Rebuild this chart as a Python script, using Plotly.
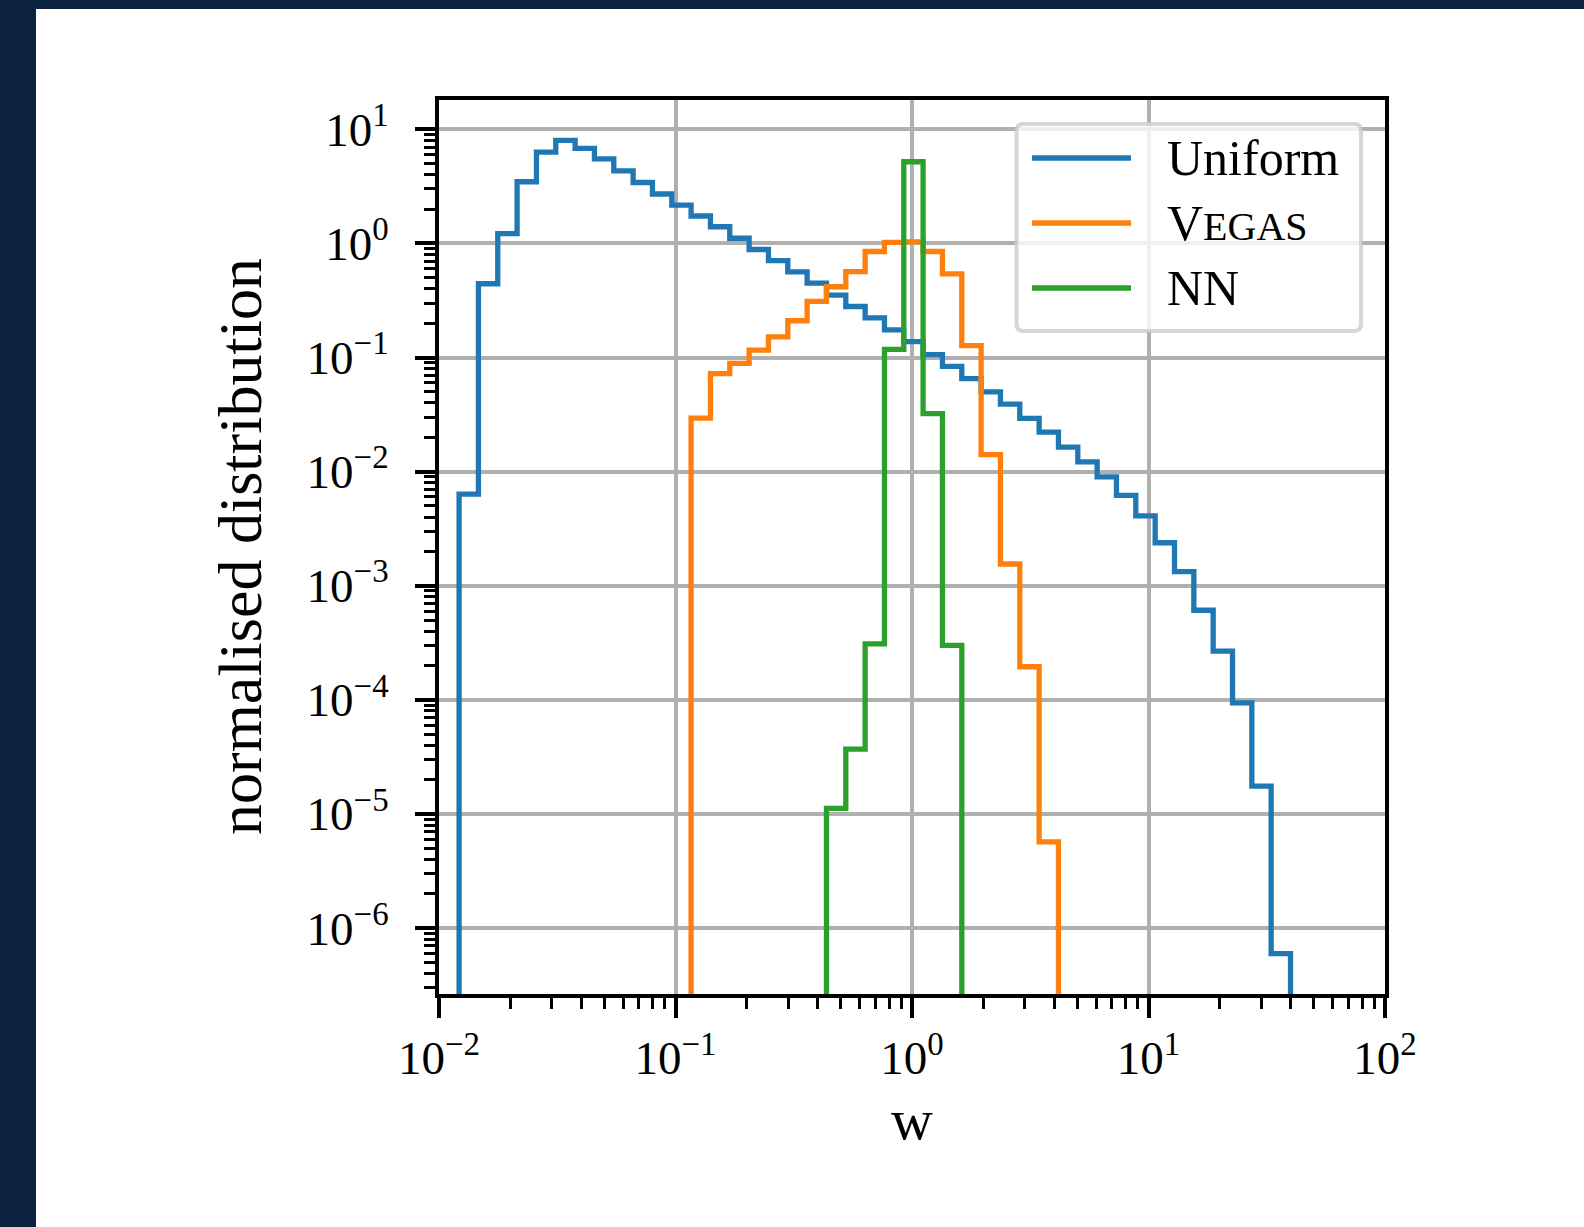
import plotly.graph_objects as go

# ---------------- data ----------------
# histogram bin edges (log-spaced)
bin_edges = [0.01216, 0.01468, 0.01772, 0.02139, 0.02582, 0.03117, 0.03763, 0.04542,
             0.05483, 0.06619, 0.07990, 0.09645, 0.1164, 0.1405, 0.1696, 0.2048,
             0.2472, 0.2984, 0.3602, 0.4348, 0.5249, 0.6336, 0.7648, 0.9232,
             1.114, 1.345, 1.624, 1.960, 2.366, 2.856, 3.448, 4.162,
             5.024, 6.065, 7.321, 8.837, 10.67, 12.88, 15.55, 18.77,
             22.66, 27.35, 33.01, 39.85]

series_names = ["Uniform", "V<span style='font-size:80%'>EGAS</span>", "NN"]
series_colors = ["#1f77b4", "#ff7f0e", "#2ca02c"]

uniform_start = 0
uniform_values = [6.35e-3, 0.443, 1.22, 3.47, 6.3, 8.0, 6.8, 5.5, 4.33, 3.42,
                  2.71, 2.17, 1.74, 1.40, 1.11, 0.885, 0.706, 0.564, 0.448, 0.352,
                  0.280, 0.223, 0.175, 0.138, 0.106, 0.0835, 0.0653, 0.0500, 0.0390, 0.0293,
                  0.0222, 0.0164, 0.0122, 0.0090, 0.0062, 0.0041, 0.00238, 0.00133, 6.1e-4, 2.67e-4,
                  9.4e-5, 1.75e-5, 5.98e-7]

vegas_start = 12
vegas_values = [0.0295, 0.0724, 0.0890, 0.116, 0.152, 0.210, 0.310, 0.417, 0.567, 0.850,
                1.02, 1.03, 0.850, 0.540, 0.127, 0.0141, 0.00155, 1.95e-4, 5.7e-6]

nn_start = 19
nn_values = [1.12e-5, 3.7e-5, 3.1e-4, 0.118, 5.2, 0.0323, 3.0e-4]

x_tickvals = [1e-2, 1e-1, 1e0, 1e1, 1e2]
x_exponents = ["−2", "−1", "0", "1", "2"]
y_tickvals = [1e-6, 1e-5, 1e-4, 1e-3, 1e-2, 1e-1, 1e0, 1e1]
y_exponents = ["−6", "−5", "−4", "−3", "−2", "−1", "0", "1"]

x_title = "w"
y_title = "normalised distribution"

# ---------------- layout geometry (pixels) ----------------
W, H = 1584, 1227
L, R, T, B = 439, 1385, 100, 994
FONT = "Liberation Serif"
TICK_SIZE = 47
FLOOR = 1e-12


def pxx(px):
    return (px - L) / (R - L)


def pxy(py):
    return (B - py) / (B - T)


def power_label(exp):
    return f"10<sup>{exp}</sup>"


fig = go.Figure()

series = [(uniform_start, uniform_values), (vegas_start, vegas_values), (nn_start, nn_values)]
for (start, vals), name, color in zip(series, series_names, series_colors):
    xs = [bin_edges[start]]
    ys = [FLOOR]
    for i, v in enumerate(vals):
        xs += [bin_edges[start + i], bin_edges[start + i + 1]]
        ys += [v, v]
    xs.append(bin_edges[start + len(vals)])
    ys.append(FLOOR)
    fig.add_trace(go.Scatter(x=xs, y=ys, mode="lines", name=name,
                             line=dict(color=color, width=5.3),
                             showlegend=False, hoverinfo="skip"))

x_minor = [k * 10.0 ** e for e in range(-2, 2) for k in range(2, 10)]
y_minor = [k * 10.0 ** e for e in range(-7, 2) for k in range(2, 10)
           if 2.6e-7 < k * 10.0 ** e < 18]

axis_common = dict(
    type="log", tickmode="array", ticks="outside", ticklen=20, tickwidth=4,
    tickcolor="black", showline=True, linewidth=4, linecolor="black", mirror=True,
    showgrid=True, gridcolor="#b0b0b0", gridwidth=3.5, zeroline=False,
    tickfont=dict(family=FONT, size=TICK_SIZE, color="black"),
)

fig.update_xaxes(range=[-2, 2], tickvals=x_tickvals,
                 ticktext=[power_label(e) for e in x_exponents],
                 ticklabelstandoff=0,
                 minor=dict(tickmode="array", tickvals=x_minor, ticks="outside", ticklen=11,
                            tickwidth=3, tickcolor="black", showgrid=False),
                 **axis_common)
fig.update_yaxes(range=[-6.578, 1.257], tickvals=y_tickvals,
                 ticktext=[power_label(e) for e in y_exponents],
                 ticklabelstandoff=17,
                 minor=dict(tickmode="array", tickvals=y_minor, ticks="outside", ticklen=11,
                            tickwidth=3, tickcolor="black", showgrid=False),
                 **axis_common)

shapes = []
# dark page border (left and top)
NAVY = "#0c2340"
shapes.append(dict(type="rect", xref="paper", yref="paper",
                   x0=pxx(0), x1=pxx(36), y0=pxy(H), y1=pxy(0),
                   fillcolor=NAVY, line=dict(width=0), layer="above"))
shapes.append(dict(type="rect", xref="paper", yref="paper",
                   x0=pxx(0), x1=pxx(W), y0=pxy(9), y1=pxy(0),
                   fillcolor=NAVY, line=dict(width=0), layer="above"))

# legend frame (rounded)
bx0, bx1, by0, by1 = 1016.5, 1361, 124, 331
r = 7
rx, ry = r / (R - L), r / (B - T)
X0, X1, Yt, Yb = pxx(bx0), pxx(bx1), pxy(by0), pxy(by1)
path = (f"M {X0+rx},{Yt} L {X1-rx},{Yt} Q {X1},{Yt} {X1},{Yt-ry} "
        f"L {X1},{Yb+ry} Q {X1},{Yb} {X1-rx},{Yb} L {X0+rx},{Yb} "
        f"Q {X0},{Yb} {X0},{Yb+ry} L {X0},{Yt-ry} Q {X0},{Yt} {X0+rx},{Yt} Z")
shapes.append(dict(type="path", xref="paper", yref="paper", path=path,
                   fillcolor="rgba(255,255,255,0.8)",
                   line=dict(color="rgba(204,204,204,0.8)", width=4), layer="above"))

annotations = []
legend_line_y = [158, 223, 288]
for name, color, ly in zip(series_names, series_colors, legend_line_y):
    shapes.append(dict(type="line", xref="paper", yref="paper",
                       x0=pxx(1032), x1=pxx(1131), y0=pxy(ly), y1=pxy(ly),
                       line=dict(color=color, width=5.3), layer="above"))
    annotations.append(dict(text=name, xref="paper", yref="paper",
                            x=pxx(1165), y=pxy(ly), xanchor="left", yanchor="middle",
                            showarrow=False, font=dict(family=FONT, size=50, color="black")))

annotations.append(dict(text=x_title, xref="paper", yref="paper", x=0.5, y=pxy(1119),
                        xanchor="center", yanchor="middle", showarrow=False,
                        font=dict(family=FONT, size=58, color="black")))
annotations.append(dict(text=y_title, xref="paper", yref="paper", x=pxx(240), y=pxy(547),
                        xanchor="center", yanchor="middle", showarrow=False, textangle=-90,
                        font=dict(family=FONT, size=62, color="black")))

fig.update_layout(
    width=W, height=H, autosize=False,
    margin=dict(l=L, r=W - R, t=T, b=H - B, pad=0),
    paper_bgcolor="white", plot_bgcolor="white",
    shapes=shapes, annotations=annotations, hovermode=False,
    showlegend=False,
)

fig.write_html("out.html")
